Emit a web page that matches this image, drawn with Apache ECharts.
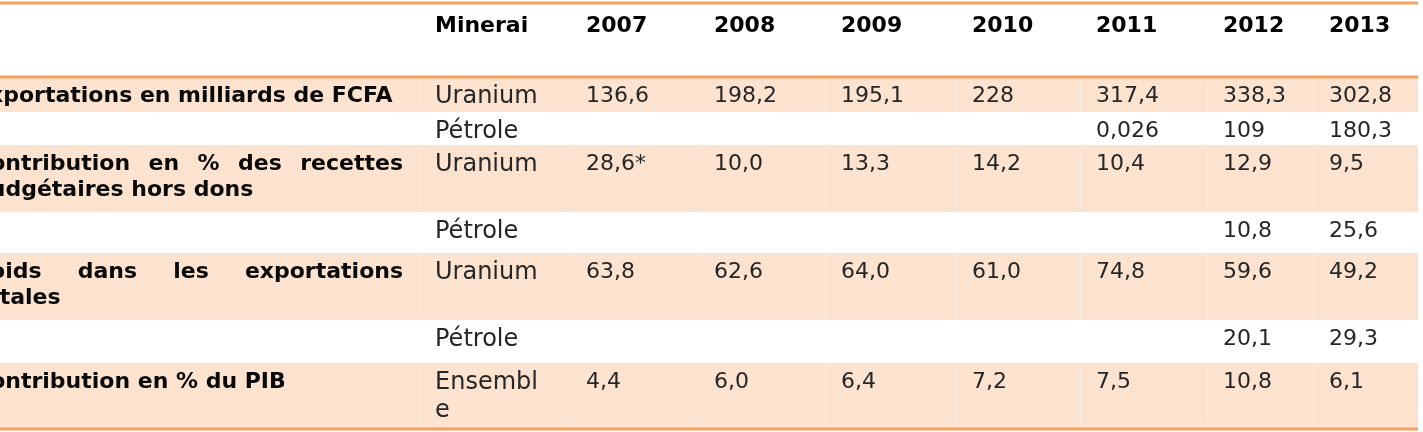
<!DOCTYPE html>
<html><head><meta charset="utf-8">
<script src="https://cdn.jsdelivr.net/npm/echarts@6/dist/echarts.min.js"></script>
<style>html,body{margin:0;padding:0;background:#fff;overflow:hidden}#c{width:1423px;height:432px}</style>
</head><body><div id="c"></div>
<script>
// ---------------- data ----------------
const headerMineral = "Minerai";
const years = ["2007", "2008", "2009", "2010", "2011", "2012", "2013"];
const indicators = [
  ["Exportations en milliards de FCFA"],
  ["Contribution en % des recettes", "budgétaires hors dons"],
  ["Poids dans les exportations", "totales"],
  ["Contribution en % du PIB"]
];
const indicatorBodyRows = [0, 2, 4, 6];
const minerals = ["Uranium", "Pétrole", "Uranium", "Pétrole", "Uranium", "Pétrole", "Ensemble"];
const exportsUranium = ["136,6", "198,2", "195,1", "228", "317,4", "338,3", "302,8"];
const exportsPetrole = ["", "", "", "", "0,026", "109", "180,3"];
const budgetUranium  = ["28,6*", "10,0", "13,3", "14,2", "10,4", "12,9", "9,5"];
const budgetPetrole  = ["", "", "", "", "", "10,8", "25,6"];
const shareUranium   = ["63,8", "62,6", "64,0", "61,0", "74,8", "59,6", "49,2"];
const sharePetrole   = ["", "", "", "", "", "20,1", "29,3"];
const gdpTotal       = ["4,4", "6,0", "6,4", "7,2", "7,5", "10,8", "6,1"];
const bodyValues = [exportsUranium, exportsPetrole, budgetUranium, budgetPetrole, shareUranium, sharePetrole, gdpTotal];

// ---------------- layout (table geometry, in axis units) ----------------
const colEdges = [-42, 419, 570, 698, 825, 956, 1080, 1207, 1313, 1418];
const rowEdges = [3, 77, 112, 145, 212, 253, 320, 363, 429];
const ruleRows = [0, 1, 8];
const PAD = 16, FIRST_LINE_CENTER = 19.5, HEAD_CENTER = 23, MINERAL_WRAP = 110;
const LINE_H = { head: 25, label: 26, mineral: 28, num: 25 };
const FONT_FAMILY = '"DejaVu Sans"';
const FONTS = {
  head: 'bold 22px ' + FONT_FAMILY,
  label: 'bold 22px ' + FONT_FAMILY,
  mineral: '24px ' + FONT_FAMILY,
  num: '22px ' + FONT_FAMILY
};
const COLORS = { band: '#FCE3CF', rule: '#F4A262', head: '#000000', label: '#0a0a0a', body: '#262626', sep: '#FDEADB' };

// ---------------- build cells ----------------
const cells = [];
cells.push({ col: 1, row: 0, lines: [headerMineral], kind: 'head' });
years.forEach((y, i) => cells.push({ col: 2 + i, row: 0, lines: [y], kind: 'head' }));
minerals.forEach((m, r) => cells.push({ col: 1, row: r + 1, lines: [m], kind: 'mineral' }));
bodyValues.forEach((vals, r) => vals.forEach((v, i) => { if (v !== '') cells.push({ col: 2 + i, row: r + 1, lines: [v], kind: 'num' }); }));
indicators.forEach((lines, k) => cells.push({ col: 0, row: indicatorBodyRows[k] + 1, lines: lines, kind: 'label' }));

const measureCtx = document.createElement('canvas').getContext('2d');
function textWidth(t, font) { measureCtx.font = font; return measureCtx.measureText(t).width; }

const bodyRowIdx = minerals.map((_, i) => i);

const chart = echarts.init(document.getElementById('c'), null, { renderer: 'canvas' });
chart.setOption({
  animation: false,
  backgroundColor: '#ffffff',
  grid: { left: 0, right: 0, top: 0, bottom: 0 },
  xAxis: { type: 'value', min: 0, max: 1423, show: false },
  yAxis: { type: 'value', min: 0, max: 432, inverse: true, show: false },
  series: [
    { // shaded bands
      type: 'custom', silent: true, clip: false,
      data: bodyRowIdx.map(r => [r, r]),
      renderItem: function (params, api) {
        const r = bodyRowIdx[params.dataIndex];
        if (r % 2 !== 0) return { type: 'group', children: [] };
        const p0 = api.coord([colEdges[0], rowEdges[r + 1]]);
        const p1 = api.coord([colEdges[colEdges.length - 1], rowEdges[r + 2]]);
        const children = [{ type: 'rect', shape: { x: p0[0], y: p0[1], width: p1[0] - p0[0], height: p1[1] - p0[1] }, style: { fill: COLORS.band } }];
        for (let c = 1; c < colEdges.length - 1; c++) {
          const q = api.coord([colEdges[c], rowEdges[r + 1]]);
          children.push({ type: 'rect', shape: { x: q[0], y: p0[1], width: 1, height: p1[1] - p0[1] }, style: { fill: COLORS.sep } });
        }
        return { type: 'group', children: children };
      }
    },
    { // horizontal rules
      type: 'custom', silent: true, clip: false,
      data: ruleRows.map(r => [r, r]),
      renderItem: function (params, api) {
        const r = ruleRows[params.dataIndex];
        const p0 = api.coord([colEdges[0], rowEdges[r]]);
        const p1 = api.coord([colEdges[colEdges.length - 1], rowEdges[r]]);
        return { type: 'rect', shape: { x: p0[0], y: p0[1] - 1.5, width: p1[0] - p0[0], height: 3 }, style: { fill: COLORS.rule } };
      }
    },
    { // cell texts
      type: 'custom', silent: true, clip: false,
      data: cells.map(c => [c.col, c.row]),
      renderItem: function (params, api) {
        const c = cells[params.dataIndex];
        const p0 = api.coord([colEdges[c.col], rowEdges[c.row]]);
        const p1 = api.coord([colEdges[c.col + 1], rowEdges[c.row + 1]]);
        const left = p0[0] + PAD, right = p1[0] - PAD;
        const font = FONTS[c.kind];
        const lh = LINE_H[c.kind];
        const fill = c.kind === 'head' ? COLORS.head : (c.kind === 'label' ? COLORS.label : COLORS.body);
        const centerOff = c.kind === 'head' ? HEAD_CENTER : FIRST_LINE_CENTER;
        const top = p0[1] + centerOff - lh / 2;
        const children = [];
        if (c.kind === 'label') {
          c.lines.forEach((line, li) => {
            const y = top + li * lh;
            const words = line.split(' ');
            const justify = li < c.lines.length - 1 && words.length > 1;
            if (!justify) {
              children.push({ type: 'text', style: { x: left, y: y, text: line, font: font, fill: fill, align: 'left', verticalAlign: 'top', lineHeight: lh } });
              return;
            }
            const widths = words.map(w => textWidth(w, font));
            const total = widths.reduce((a, b) => a + b, 0);
            const gap = (right - left - total) / (words.length - 1);
            let x = left;
            words.forEach((w, wi) => {
              children.push({ type: 'text', style: { x: x, y: y, text: w, font: font, fill: fill, align: 'left', verticalAlign: 'top', lineHeight: lh } });
              x += widths[wi] + gap;
            });
          });
        } else {
          const style = { x: left, y: top, text: c.lines[0], font: font, fill: fill, align: 'left', verticalAlign: 'top', lineHeight: lh };
          if (c.kind === 'mineral') { style.width = MINERAL_WRAP; style.overflow = 'breakAll'; }
          children.push({ type: 'text', style: style });
        }
        return { type: 'group', children: children };
      }
    }
  ]
});
</script></body></html>
